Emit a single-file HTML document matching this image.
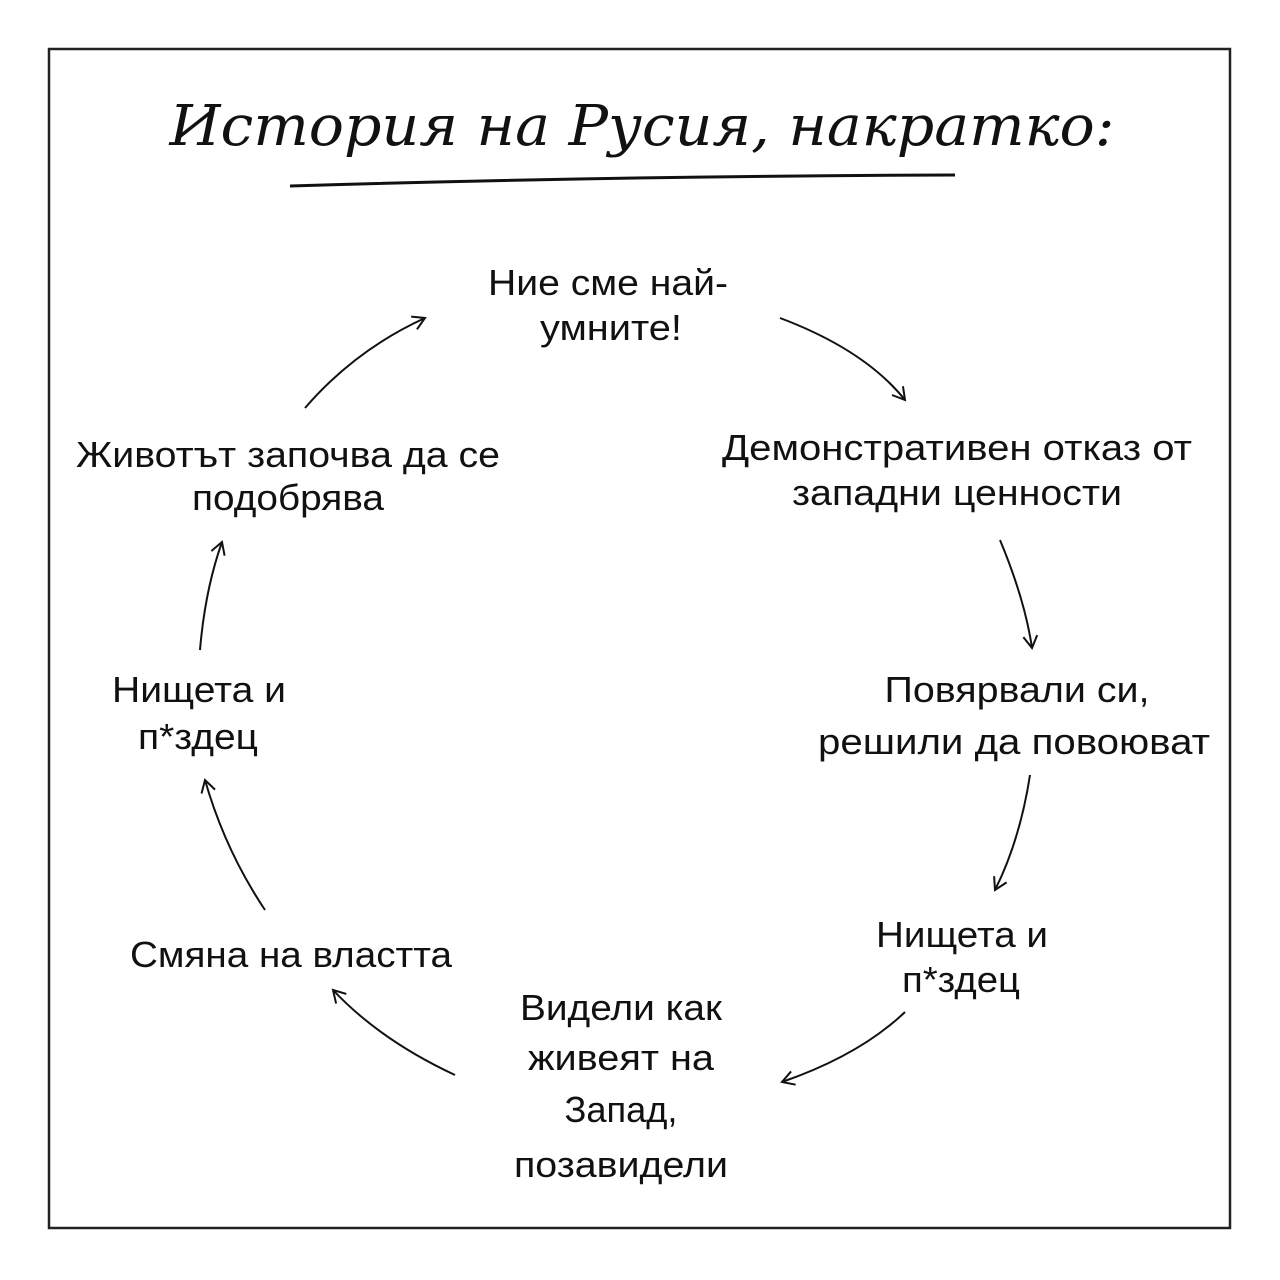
<!DOCTYPE html>
<html><head><meta charset="utf-8">
<style>
html,body{margin:0;padding:0;background:#fff;}
svg{display:block;}
text{font-family:"Liberation Sans","DejaVu Sans",sans-serif;fill:#111;}
</style></head>
<body>
<svg width="1280" height="1280" viewBox="0 0 1280 1280" xmlns="http://www.w3.org/2000/svg">
<defs>
<marker id="a" markerWidth="20" markerHeight="20" refX="14" refY="8" orient="auto" markerUnits="userSpaceOnUse">
<path d="M2,1 L14,8 L2,15" fill="none" stroke="#111" stroke-width="2"/>
</marker>
</defs>
<rect x="49" y="49" width="1181" height="1179" fill="none" stroke="#222" stroke-width="2.5"/>
<text x="642" y="145" text-anchor="middle" font-size="56" font-style="italic" textLength="945" lengthAdjust="spacingAndGlyphs" style="font-family:'DejaVu Serif','Liberation Serif',serif">История на Русия, накратко:</text>
<path d="M290,186 Q620,176 955,175" fill="none" stroke="#111" stroke-width="3"/>
<g font-size="36" text-anchor="middle" lengthAdjust="spacingAndGlyphs">
<text x="608" y="295" textLength="240" lengthAdjust="spacingAndGlyphs">Ние сме най-</text>
<text x="611" y="340" textLength="142" lengthAdjust="spacingAndGlyphs">умните!</text>
<text x="957" y="460" textLength="470" lengthAdjust="spacingAndGlyphs">Демонстративен отказ от</text>
<text x="957" y="505" textLength="330" lengthAdjust="spacingAndGlyphs">западни ценности</text>
<text x="1017" y="702" textLength="265" lengthAdjust="spacingAndGlyphs">Повярвали си,</text>
<text x="1014" y="754" textLength="392" lengthAdjust="spacingAndGlyphs">решили да повоюват</text>
<text x="962" y="947" textLength="172" lengthAdjust="spacingAndGlyphs">Нищета и</text>
<text x="961" y="992" textLength="118" lengthAdjust="spacingAndGlyphs">п*здец</text>
<text x="621" y="1020" textLength="202" lengthAdjust="spacingAndGlyphs">Видели как</text>
<text x="621" y="1070" textLength="186" lengthAdjust="spacingAndGlyphs">живеят на</text>
<text x="621" y="1122" textLength="113" lengthAdjust="spacingAndGlyphs">Запад,</text>
<text x="621" y="1177" textLength="214" lengthAdjust="spacingAndGlyphs">позавидели</text>
<text x="291" y="967" textLength="322" lengthAdjust="spacingAndGlyphs">Смяна на властта</text>
<text x="199" y="702" textLength="174" lengthAdjust="spacingAndGlyphs">Нищета и</text>
<text x="198" y="749" textLength="120" lengthAdjust="spacingAndGlyphs">п*здец</text>
<text x="288" y="467" textLength="424" lengthAdjust="spacingAndGlyphs">Животът започва да се</text>
<text x="288" y="510" textLength="192" lengthAdjust="spacingAndGlyphs">подобрява</text>
</g>
<g fill="none" stroke="#111" stroke-width="2" marker-end="url(#a)">
<path d="M305,408 Q355,350 425,318"/>
<path d="M780,318 Q865,350 905,400"/>
<path d="M1000,540 Q1025,600 1032,648"/>
<path d="M1030,775 Q1020,840 995,890"/>
<path d="M905,1012 Q860,1055 782,1082"/>
<path d="M455,1075 Q380,1040 333,990"/>
<path d="M265,910 Q225,850 205,780"/>
<path d="M200,650 Q205,590 222,542"/>
</g>
</svg>
</body></html>
